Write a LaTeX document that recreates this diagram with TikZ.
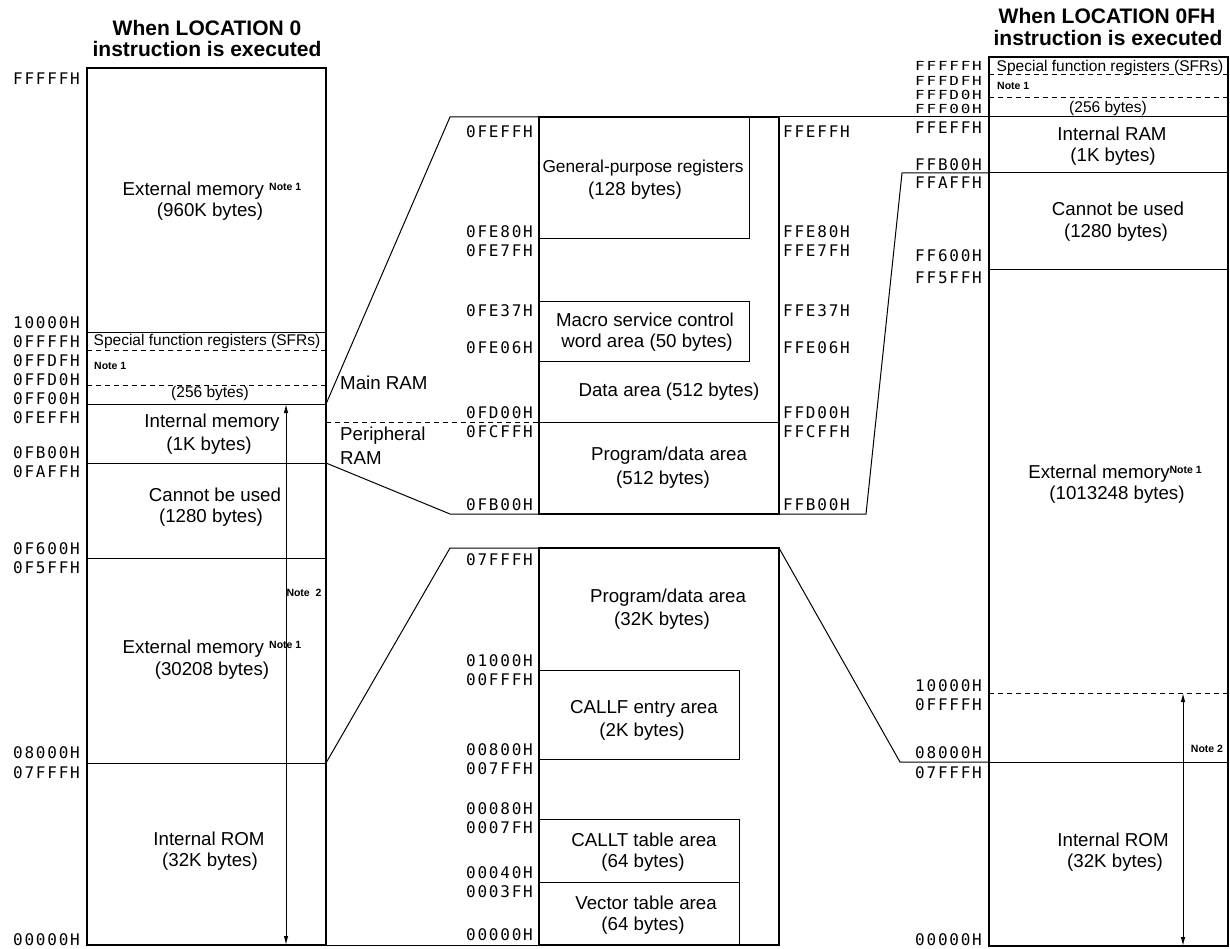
\documentclass[tikz,border=0pt]{standalone}
\usepackage{fontspec}
\setmainfont{Liberation Sans}
\newfontfamily\addrfamily[LetterSpace=11]{DejaVu Sans Mono}
\usetikzlibrary{arrows.meta}
\newcommand\af{\addrfamily\fontsize{16}{18}\selectfont}
\newcommand\bigtxt{\fontsize{18.7}{22}\selectfont}
\newcommand\midtxt{\fontsize{15.5}{18}\selectfont}
\newcommand\notetxt{\bfseries\fontsize{10.5}{12}\selectfont}
\newcommand\titletxt{\bfseries\fontsize{21}{24}\selectfont}
\newcommand\supnote{{\notetxt\raisebox{5pt}{Note 1}}}
\begin{document}
\begin{tikzpicture}[x=1pt,y=-1pt,
  addr/.style={font=\af, inner sep=0pt},
  saddr/.style={font=\af, inner sep=0pt},
  txt/.style={font=\bigtxt, inner sep=0pt},
  mtxt/.style={font=\midtxt, inner sep=0pt},
  ntxt/.style={font=\notetxt, inner sep=0pt},
  ttl/.style={font=\titletxt, inner sep=0pt},
  boxline/.style={line width=2pt},
  thinline/.style={line width=1pt},
  dline/.style={line width=1pt, dash pattern=on 5pt off 4pt},
  dimarrow/.style={line width=1pt, {Latex[length=9pt,width=4.5pt]}-{Latex[length=9pt,width=4.5pt]}}
]
\useasboundingbox (0,0) rectangle (1230,949);

% ---------- titles ----------
\node[ttl] (t1a) at (207,28) {When LOCATION 0};
\node[ttl] (t1b) at (207,49) {instruction is executed};
\node[ttl] (t2a) at (1107,16) {When LOCATION 0FH};
\node[ttl] (t2b) at (1108,38) {instruction is executed};

% ---------- named coordinates ----------
\coordinate (LTL) at (87,68);   \coordinate (LBR) at (326,945);
\coordinate (CTL) at (539,117); \coordinate (CTR) at (779,117);
\coordinate (CTBL) at (539,514); \coordinate (CTBR) at (779,514);
\coordinate (CBL) at (539,548); \coordinate (CBR) at (779,548);
\coordinate (CBBL) at (539,945); \coordinate (CBBR) at (779,945);
\coordinate (RTL) at (989,57);  \coordinate (RBR) at (1228,946);

% ---------- left box ----------
\draw[thinline] (87,332) -- (326,332);
\draw[dline] (87,350) -- (326,350);
\draw[dline] (87,385) -- (326,385);
\draw[thinline] (87,404) coordinate (L404a) -- (326,404) coordinate (L404);
\draw[thinline] (87,463) -- (326,463) coordinate (L463);
\draw[thinline] (87,558) -- (326,558);
\draw[thinline] (87,763) -- (326,763) coordinate (L763);
\coordinate (L422) at (326,422);
\coordinate (L945) at (326,945);
\draw[boxline] (LTL) rectangle (LBR);

\coordinate (LA1) at (286,404); \coordinate (LA2) at (286,945);
\draw[dimarrow] (LA1) -- (LA2);
\node[ntxt] (ln2) at (304,593) {Note\ \ 2};

\foreach \y/\t [count=\i] in {79/FFFFFH,323/10000H,342/0FFFFH,361/0FFDFH,380/0FFD0H,399/0FF00H,418/0FEFFH,453/0FB00H,472/0FAFFH,549/0F600H,568/0F5FFH,753/08000H,773/07FFFH,940/00000H}
  \node[addr, anchor=east] (la\i) at (80,\y) {\t};

\node[txt, anchor=base] (le1) at (212,196) {External memory \supnote};
\node[txt] (le1b) at (210,212) {(960K bytes)};
\node[mtxt] (lsfr) at (207,341) {Special function registers (SFRs)};
\node[ntxt, anchor=west] (lnote1) at (94,366) {Note 1};
\node[mtxt] (l256) at (210,393) {(256 bytes)};
\node[txt] (lim) at (212,423) {Internal memory};
\node[txt] (lim2) at (209,446) {(1K bytes)};
\node[txt] (lcb) at (215,495) {Cannot be used};
\node[txt] (lcb2) at (211,518) {(1280 bytes)};
\node[txt, anchor=base] (le2) at (212,653) {External memory \supnote};
\node[txt] (le22) at (212,671) {(30208 bytes)};
\node[txt] (lrom) at (209,839) {Internal ROM};
\node[txt] (lrom2) at (210,862) {(32K bytes)};

\node[txt, anchor=west] (mainram) at (340,383) {Main RAM};
\node[txt, anchor=west] (perram1) at (340,436) {Peripheral};
\node[txt, anchor=west] (perram2) at (340,458) {RAM};

% ---------- centre top box ----------
\draw[thinline] (539,239) -| (749,117);
\draw[thinline] (539,301) rectangle (749,361);
\draw[thinline] (539,422) coordinate (C422) -- (779,422);
\draw[boxline] (CTL) rectangle (CTBR);

\foreach \y/\t/\u [count=\i] in {132/0FEFFH/FFEFFH,232/0FE80H/FFE80H,251/0FE7FH/FFE7FH,311/0FE37H/FFE37H,348/0FE06H/FFE06H,413/0FD00H/FFD00H,432/0FCFFH/FFCFFH,505/0FB00H/FFB00H}{
  \node[addr, anchor=east] (cl\i) at (533,\y) {\t};
  \node[addr, anchor=west] (cr\i) at (783,\y) {\u};
}
\node[txt, font=\fontsize{17.3}{20}\selectfont] (gpr) at (643,168) {General-purpose registers};
\node[txt] (gpr2) at (635,191) {(128 bytes)};
\node[txt] (msc) at (645,320) {Macro service control};
\node[txt] (msc2) at (647,343) {word area (50 bytes)};
\node[txt] (data) at (669,392) {Data area (512 bytes)};
\node[txt] (pd) at (669,456) {Program/data area};
\node[txt] (pd2) at (663,480) {(512 bytes)};

% ---------- centre bottom box ----------
\draw[thinline] (539,670) rectangle (739,759);
\draw[thinline] (539,819) rectangle (739,882);
\draw[thinline] (739,882) -- (739,945);
\draw[boxline] (CBL) rectangle (CBBR);

\foreach \y/\t [count=\i] in {560/07FFFH,661/01000H,680/00FFFH,750/00800H,769/007FFH,809/00080H,828/0007FH,873/00040H,892/0003FH,935/00000H}
  \node[addr, anchor=east] (bl\i) at (533,\y) {\t};
\node[txt] (bpd) at (668,598) {Program/data area};
\node[txt] (bpd2) at (662,621) {(32K bytes)};
\node[txt] (callf) at (644,709) {CALLF entry area};
\node[txt] (callf2) at (642,732) {(2K bytes)};
\node[txt] (callt) at (644,840) {CALLT table area};
\node[txt] (callt2) at (643,863) {(64 bytes)};
\node[txt] (vec) at (646,903) {Vector table area};
\node[txt] (vec2) at (643,926) {(64 bytes)};

% ---------- right box ----------
\draw[dline] (989,75) -- (1228,75);
\draw[dline] (989,98) -- (1228,98);
\draw[thinline] (989,117) coordinate (R117) -- (1228,117);
\draw[thinline] (989,173) coordinate (R173) -- (1228,173);
\draw[thinline] (989,270) -- (1228,270);
\draw[dline] (989,693) -- (1228,693);
\draw[thinline] (989,762) coordinate (R762) -- (1228,762);
\draw[boxline] (RTL) rectangle (RBR);

\coordinate (RA1) at (1183,693); \coordinate (RA2) at (1183,946);
\draw[dimarrow] (RA1) -- (RA2);
\node[ntxt] (rn2) at (1207,749) {Note 2};

\foreach \y/\t [count=\i] in {66/FFFFFH,81/FFFDFH,95/FFFD0H,109/FFF00H}
  \node[saddr, anchor=east] (rs\i) at (982,\y) {\scalebox{1}[0.78]{\t}};
\foreach \y/\t [count=\i] in {128/FFEFFH,165/FFB00H,183/FFAFFH,256/FF600H,278/FF5FFH,686/10000H,705/0FFFFH,753/08000H,773/07FFFH,940/00000H}
  \node[addr, anchor=east] (ra\i) at (982,\y) {\t};

\node[mtxt] (rsfr) at (1110,67) {Special function registers (SFRs)};
\node[ntxt, anchor=west] (rnote1) at (997,86) {Note 1};
\node[mtxt] (r256) at (1108,108) {(256 bytes)};
\node[txt] (rram) at (1112,134) {Internal RAM};
\node[txt] (rram2) at (1113,157) {(1K bytes)};
\node[txt] (rcb) at (1118,209) {Cannot be used};
\node[txt] (rcb2) at (1116,233) {(1280 bytes)};
\node[txt, anchor=base] (rext) at (1115,478) {External memory\supnote};
\node[txt] (rext2) at (1117,495) {(1013248 bytes)};
\node[txt] (rrom) at (1113,840) {Internal ROM};
\node[txt] (rrom2) at (1115,863) {(32K bytes)};

% ---------- connectors ----------
\coordinate (k1) at (450,117);
\coordinate (k2) at (450,514);
\coordinate (k3) at (902,173);
\coordinate (k4) at (866,514);
\coordinate (k5) at (450,548);
\coordinate (k6) at (900,762);
\draw[thinline] (L404) -- (k1) -- (CTL);
\draw[thinline] (CTR) -- (R117);
\draw[thinline] (L463) -- (k2) -- (CTBL);
\draw[thinline] (R173) -- (k3) -- (k4) -- (CTBR);
\draw[dline] (L422) -- (C422);
\draw[thinline] (L763) -- (k5) -- (CBL);
\draw[thinline] (L945) -- (CBBL);
\draw[thinline] (CBR) -- (k6) -- (R762);
\end{tikzpicture}
\end{document}
